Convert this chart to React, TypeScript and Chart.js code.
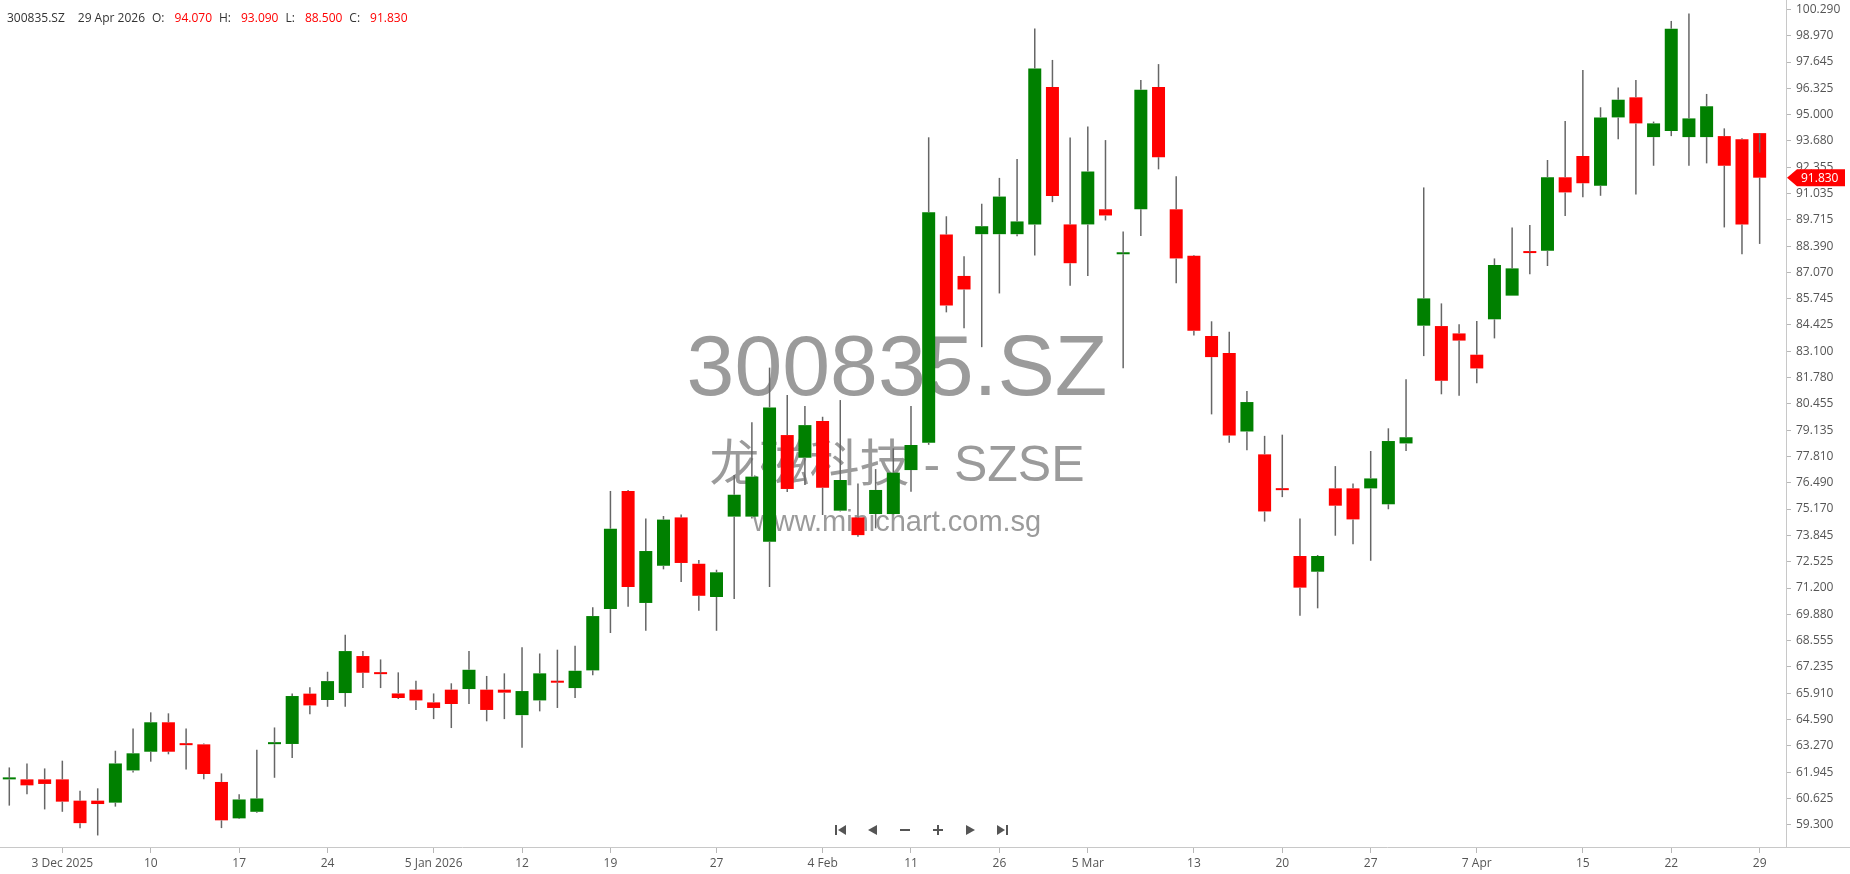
import React, { useEffect, useRef } from "react";
import { Chart, registerables } from "chart.js";

Chart.register(...registerables);

// ---------- data ----------
const symbol = "300835.SZ";
const companyLine = "龙磁科技 - SZSE";
const siteLine = "www.minichart.com.sg";
const lastDate = "29 Apr 2026";
const headerLabels = ["O:", "H:", "L:", "C:"];
const headerValues = ["94.070", "93.090", "88.500", "91.830"];

const dates = [
  "2025-11-28",
  "2025-12-01", "2025-12-02", "2025-12-03", "2025-12-04", "2025-12-05",
  "2025-12-08", "2025-12-09", "2025-12-10", "2025-12-11", "2025-12-12",
  "2025-12-15", "2025-12-16", "2025-12-17", "2025-12-18", "2025-12-19",
  "2025-12-22", "2025-12-23", "2025-12-24", "2025-12-25", "2025-12-26",
  "2025-12-29", "2025-12-30", "2025-12-31",
  "2026-01-05", "2026-01-06", "2026-01-07", "2026-01-08", "2026-01-09",
  "2026-01-12", "2026-01-13", "2026-01-14", "2026-01-15", "2026-01-16",
  "2026-01-19", "2026-01-20", "2026-01-21", "2026-01-22", "2026-01-23",
  "2026-01-26", "2026-01-27", "2026-01-28", "2026-01-29", "2026-01-30",
  "2026-02-02", "2026-02-03", "2026-02-04", "2026-02-05", "2026-02-06",
  "2026-02-09", "2026-02-10", "2026-02-11", "2026-02-12", "2026-02-13",
  "2026-02-24", "2026-02-25", "2026-02-26", "2026-02-27",
  "2026-03-02", "2026-03-03", "2026-03-04", "2026-03-05", "2026-03-06",
  "2026-03-09", "2026-03-10", "2026-03-11", "2026-03-12", "2026-03-13",
  "2026-03-16", "2026-03-17", "2026-03-18", "2026-03-19", "2026-03-20",
  "2026-03-23", "2026-03-24", "2026-03-25", "2026-03-26", "2026-03-27",
  "2026-03-30", "2026-03-31", "2026-04-01", "2026-04-02", "2026-04-03",
  "2026-04-07", "2026-04-08", "2026-04-09", "2026-04-10",
  "2026-04-13", "2026-04-14", "2026-04-15", "2026-04-16", "2026-04-17",
  "2026-04-20", "2026-04-21", "2026-04-22", "2026-04-23", "2026-04-24",
  "2026-04-27", "2026-04-28", "2026-04-29",
];

const opens = [
  61.58, 61.58, 61.58, 61.58, 60.51, 60.51, 60.41, 62.03, 62.97, 64.45,
  63.34, 63.34, 61.45, 59.62, 59.95, 63.35, 63.36, 65.89, 65.57, 65.92,
  67.78, 66.91, 65.90, 66.09, 65.45, 66.09, 66.12, 66.09, 66.09, 64.81,
  65.55, 66.48, 66.17, 67.06, 70.14, 76.08, 70.45, 72.32, 74.75, 72.42,
  70.75, 74.79, 74.79, 73.53, 78.89, 77.75, 79.60, 75.09, 74.75, 74.92,
  74.92, 77.13, 78.50, 88.97, 86.89, 88.99, 88.99, 88.99, 89.47, 96.39,
  89.48, 89.48, 90.24, 87.98, 90.24, 96.39, 90.24, 87.90, 83.87, 83.01,
  79.07, 77.92, 76.16, 72.81, 72.02, 76.21, 76.21, 76.21, 75.41, 78.47,
  84.39, 84.37, 84.00, 82.93, 84.71, 85.90, 88.08, 88.16, 91.85, 92.92,
  91.43, 94.86, 95.87, 93.87, 94.18, 93.87, 93.87, 93.92, 93.76, 94.07,
];
const highs = [
  62.18, 62.38, 62.13, 62.52, 61.01, 61.13, 63.02, 64.14, 64.95, 64.90,
  64.14, 63.38, 61.88, 60.83, 63.07, 64.19, 65.90, 66.21, 66.99, 68.85,
  68.03, 67.61, 66.96, 66.54, 65.90, 66.41, 68.03, 66.78, 66.91, 68.22,
  67.91, 68.10, 68.30, 70.23, 76.08, 76.13, 74.70, 74.82, 74.90, 72.61,
  72.12, 76.88, 79.53, 82.28, 80.90, 80.35, 79.81, 80.65, 76.46, 77.18,
  78.22, 80.35, 93.86, 89.89, 87.88, 90.52, 91.82, 92.77, 99.33, 97.75,
  93.85, 94.40, 93.72, 89.13, 96.74, 97.54, 91.90, 87.94, 84.61, 84.08,
  81.10, 78.85, 78.91, 74.70, 72.86, 77.33, 76.46, 78.09, 79.23, 81.69,
  91.34, 85.51, 84.46, 84.62, 87.77, 89.33, 89.45, 92.72, 94.68, 97.24,
  95.37, 96.37, 96.74, 94.65, 99.71, 100.09, 96.04, 94.31, 93.81, 93.09,
];
const lows = [
  60.26, 60.83, 60.07, 59.95, 59.12, 58.76, 60.21, 61.92, 62.47, 62.84,
  62.08, 61.58, 59.13, 59.59, 59.90, 61.66, 62.65, 64.85, 65.23, 65.23,
  66.17, 66.17, 65.62, 65.07, 64.61, 64.16, 65.37, 64.50, 64.61, 63.17,
  65.00, 65.17, 65.67, 66.81, 68.94, 70.26, 69.05, 72.14, 71.50, 70.06,
  69.05, 70.65, 74.70, 71.25, 76.03, 76.38, 74.87, 75.05, 73.78, 74.20,
  74.90, 76.04, 78.40, 85.06, 84.26, 83.31, 86.01, 88.89, 87.92, 90.60,
  86.40, 86.89, 89.68, 82.25, 88.90, 92.25, 86.52, 83.89, 79.93, 78.50,
  78.13, 74.54, 75.77, 69.81, 70.18, 73.83, 73.40, 72.57, 75.16, 78.09,
  82.86, 80.94, 80.87, 81.49, 83.75, 85.90, 86.97, 87.39, 89.90, 90.84,
  90.92, 93.76, 90.99, 92.43, 93.92, 92.43, 92.55, 89.33, 87.98, 88.50,
];
const closes = [
  61.62, 61.28, 61.35, 60.46, 59.38, 60.34, 62.38, 62.89, 64.45, 62.97,
  63.30, 61.85, 59.52, 60.57, 60.62, 63.39, 65.77, 65.30, 66.52, 68.03,
  66.94, 66.87, 65.67, 65.55, 65.17, 65.37, 67.09, 65.07, 65.94, 66.02,
  66.91, 66.44, 67.04, 69.79, 74.18, 71.25, 73.06, 74.64, 72.46, 70.81,
  71.99, 75.89, 76.80, 80.28, 76.18, 79.39, 76.24, 76.63, 73.86, 76.13,
  77.00, 78.39, 90.09, 85.40, 86.21, 89.39, 90.88, 89.63, 97.32, 90.91,
  87.53, 92.14, 89.93, 88.02, 96.25, 92.86, 87.77, 84.14, 82.81, 78.87,
  80.55, 75.05, 76.12, 71.22, 72.81, 75.34, 74.65, 76.71, 78.59, 78.78,
  85.76, 81.62, 83.64, 82.24, 87.44, 87.27, 88.04, 91.85, 91.09, 91.55,
  94.86, 95.75, 94.56, 94.56, 99.32, 94.81, 95.42, 92.43, 89.48, 91.83,
];

const yTickLabels = [
  "100.290", "98.970", "97.645", "96.325", "95.000", "93.680", "92.355", "91.035",
  "89.715", "88.390", "87.070", "85.745", "84.425", "83.100", "81.780", "80.455",
  "79.135", "77.810", "76.490", "75.170", "73.845", "72.525", "71.200", "69.880",
  "68.555", "67.235", "65.910", "64.590", "63.270", "61.945", "60.625", "59.300",
];
const xTickIdx = [3, 8, 13, 18, 24, 29, 34, 40, 46, 51, 56, 61, 67, 72, 77, 83, 89, 94, 99];
const xTickLabels = [
  "3 Dec 2025", "10", "17", "24", "5 Jan 2026", "12", "19", "27", "4 Feb", "11",
  "26", "5 Mar", "13", "20", "27", "7 Apr", "15", "22", "29",
];

const UP = "#008000";
const DOWN = "#ff0000";
const WICK = "#666666";
const FONT = '"Open Sans", "Noto Sans", sans-serif';

const overlayPlugin = {
  id: "overlay",
  beforeDatasetsDraw(chart: any) {
    const ctx = chart.ctx;
    ctx.save();
    ctx.fillStyle = "#9b9b9b";
    ctx.textAlign = "center";
    ctx.textBaseline = "alphabetic";
    ctx.font = '86px "Liberation Sans", Arial, sans-serif';
    ctx.fillText(symbol, 897, 395);
    ctx.font = '50px "Liberation Sans", "Noto Sans CJK SC", sans-serif';
    ctx.fillText(companyLine, 897, 481);
    ctx.font = '29px "Liberation Sans", Arial, sans-serif';
    ctx.fillText(siteLine, 897, 531);
    ctx.restore();
  },
  afterDraw(chart: any) {
    const ctx = chart.ctx;
    const area = chart.chartArea;
    const yScale = chart.scales.y;
    ctx.save();
    // x axis line spanning full width
    ctx.strokeStyle = "#c8c8c8";
    ctx.lineWidth = 1;
    ctx.beginPath();
    ctx.moveTo(0, Math.round(area.bottom) + 0.5);
    ctx.lineTo(chart.width, Math.round(area.bottom) + 0.5);
    ctx.stroke();

    // last price tag
    const last = closes[closes.length - 1];
    const py = yScale.getPixelForValue(last);
    const x0 = area.right + 1;
    ctx.fillStyle = DOWN;
    ctx.beginPath();
    ctx.moveTo(x0, py);
    ctx.lineTo(x0 + 10, py - 8.5);
    ctx.lineTo(1845, py - 8.5);
    ctx.lineTo(1845, py + 8.5);
    ctx.lineTo(x0 + 10, py + 8.5);
    ctx.closePath();
    ctx.fill();
    ctx.fillStyle = "#ffffff";
    ctx.font = "12px " + FONT;
    ctx.textAlign = "left";
    ctx.textBaseline = "middle";
    ctx.fillText(last.toFixed(3), x0 + 14, py + 0.5);

    // navigation icons
    const ny = 830;
    ctx.fillStyle = "#555";
    ctx.strokeStyle = "#555";
    ctx.fillRect(835, ny - 5, 2, 10);
    ctx.beginPath();
    ctx.moveTo(838, ny);
    ctx.lineTo(846, ny - 5);
    ctx.lineTo(846, ny + 5);
    ctx.closePath();
    ctx.fill();
    ctx.beginPath();
    ctx.moveTo(868, ny);
    ctx.lineTo(877, ny - 5);
    ctx.lineTo(877, ny + 5);
    ctx.closePath();
    ctx.fill();
    ctx.fillRect(900, ny - 1, 10, 2);
    ctx.fillRect(933, ny - 1, 10, 2);
    ctx.fillRect(937, ny - 5, 2, 10);
    ctx.beginPath();
    ctx.moveTo(966, ny - 5);
    ctx.lineTo(966, ny + 5);
    ctx.lineTo(975, ny);
    ctx.closePath();
    ctx.fill();
    ctx.beginPath();
    ctx.moveTo(997, ny - 5);
    ctx.lineTo(997, ny + 5);
    ctx.lineTo(1005, ny);
    ctx.closePath();
    ctx.fill();
    ctx.fillRect(1006, ny - 5, 2, 10);
    ctx.restore();
  },
};

export default function App() {
  const canvasRef = useRef<HTMLCanvasElement | null>(null);

  useEffect(() => {
    document.body.style.margin = "0";
    document.body.style.overflow = "hidden";
    const canvas = canvasRef.current;
    if (!canvas) return;

    const bodyData = opens.map((o, i) => ({ x: i, y: [o, closes[i]] }));
    const upperWick = opens.map((o, i) => ({ x: i, y: [Math.max(o, closes[i]), highs[i]] }));
    const lowerWick = opens.map((o, i) => ({ x: i, y: [lows[i], Math.min(o, closes[i])] }));
    const bodyColors = opens.map((o, i) => (closes[i] >= o ? UP : DOWN));

    const chart = new Chart(canvas, {
      type: "bar",
      data: {
        datasets: [
          {
            label: "upper",
            data: upperWick as any,
            backgroundColor: WICK,
            grouped: false,
            categoryPercentage: 1,
            barPercentage: 0.9,
            maxBarThickness: 1.5,
            borderWidth: 0,
            order: 0,
          } as any,
          {
            label: "lower",
            data: lowerWick as any,
            backgroundColor: WICK,
            grouped: false,
            categoryPercentage: 1,
            barPercentage: 0.9,
            maxBarThickness: 1.5,
            borderWidth: 0,
            order: 1,
          } as any,
          {
            label: "body",
            data: bodyData as any,
            backgroundColor: bodyColors,
            grouped: false,
            categoryPercentage: 1,
            barPercentage: 0.9,
            maxBarThickness: 13,
            minBarLength: 2,
            borderWidth: 0,
            order: 2,
          } as any,
        ],
      },
      options: {
        responsive: true,
        maintainAspectRatio: false,
        animation: false,
        layout: { padding: 0 },
        plugins: {
          legend: { display: false },
          tooltip: { enabled: false },
          title: { display: false },
        },
        scales: {
          x: {
            type: "linear",
            min: -0.526,
            max: 100.49,
            offset: false,
            bounds: "data",
            grid: {
              display: true,
              drawOnChartArea: false,
              drawTicks: true,
              tickLength: 6,
              color: "#b8b8b8",
              offset: false,
            },
            border: { display: false },
            afterBuildTicks: (s: any) => {
              s.ticks = xTickIdx.map((v) => ({ value: v }));
            },
            afterFit: (s: any) => {
              s.height = 27;
              s.paddingLeft = 0;
              s.paddingRight = 0;
              s.paddingTop = 0;
              s.paddingBottom = 0;
            },
            ticks: {
              autoSkip: false,
              maxRotation: 0,
              minRotation: 0,
              padding: 3,
              color: "#555",
              font: { family: FONT, size: 12 },
              callback: (_v: any, i: number) => xTickLabels[i],
            },
          } as any,
          y: {
            type: "linear",
            position: "right",
            min: 58.18,
            max: 100.763,
            bounds: "data",
            grid: {
              display: true,
              drawOnChartArea: false,
              drawTicks: true,
              tickLength: 5,
              color: "#b8b8b8",
            },
            border: { display: true, color: "#c8c8c8", width: 1 },
            afterBuildTicks: (s: any) => {
              s.ticks = yTickLabels.map((t) => ({ value: parseFloat(t) }));
            },
            afterFit: (s: any) => {
              s.width = 64;
              s.paddingTop = 0;
              s.paddingBottom = 0;
              s.paddingLeft = 0;
              s.paddingRight = 0;
            },
            ticks: {
              autoSkip: false,
              padding: 5,
              color: "#555",
              font: { family: FONT, size: 12 },
              callback: (_v: any, i: number) => yTickLabels[i],
            },
          } as any,
        },
      },
      plugins: [overlayPlugin],
    });

    return () => {
      chart.destroy();
    };
  }, []);

  return (
    <div style={{ position: "relative", width: 1850, height: 874, background: "#fff" }}>
      <canvas ref={canvasRef} />
      <div
        style={{
          position: "absolute",
          left: 7,
          top: 10,
          fontFamily: FONT,
          fontSize: 12,
          lineHeight: "16px",
          color: "#333",
          whiteSpace: "pre",
          pointerEvents: "none",
        }}
      >
        <span style={{ marginRight: 13 }}>{symbol}</span>
        <span style={{ marginRight: 7 }}>{lastDate}</span>
        {headerLabels.map((lab, k) => (
          <React.Fragment key={lab}>
            <span style={{ marginRight: 10 }}>{lab}</span>
            <span style={{ marginRight: 7, color: DOWN }}>{headerValues[k]}</span>
          </React.Fragment>
        ))}
      </div>
    </div>
  );
}
